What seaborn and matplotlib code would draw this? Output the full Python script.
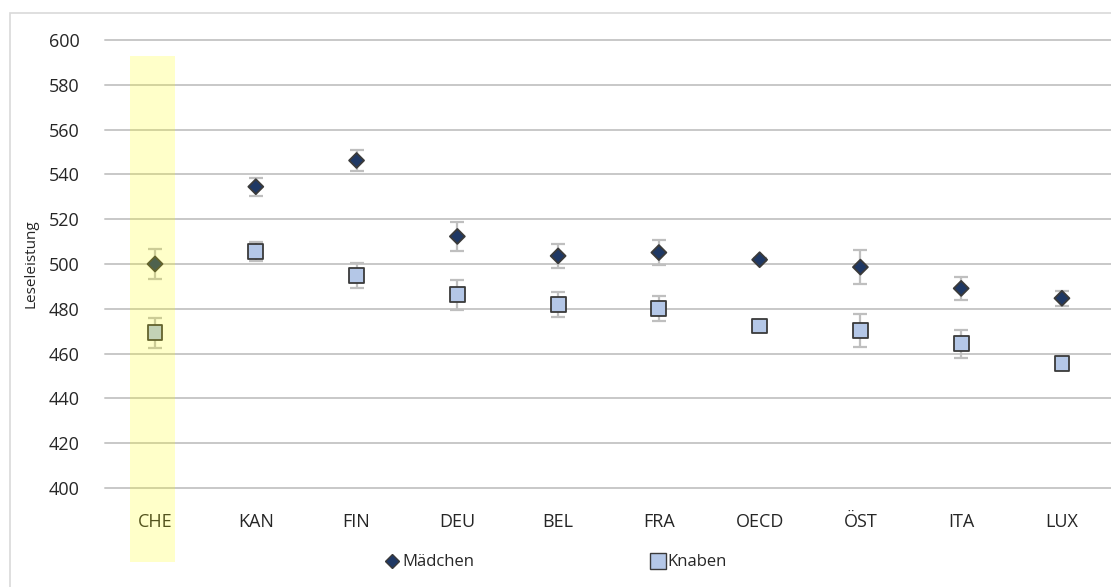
import matplotlib
matplotlib.use("Agg")
import matplotlib.pyplot as plt
from matplotlib.patches import Rectangle
from matplotlib.lines import Line2D
import seaborn as sns
import pandas as pd

# Reading performance by gender
countries = ["CHE", "KAN", "FIN", "DEU", "BEL", "FRA", "OECD", "ÖST", "ITA", "LUX"]
maedchen = [500, 534.5, 546.2, 512.3, 503.6, 505.1, 501.9, 498.6, 489.1, 484.7]
maedchen_err = [6.5, 4.1, 4.9, 6.5, 5.5, 5.5, 0.6, 7.5, 5.1, 3.3]
knaben = [469.3, 505.6, 494.8, 486.2, 482.0, 480.2, 472.3, 470.4, 464.3, 455.4]
knaben_err = [6.8, 4.2, 5.7, 6.7, 5.7, 5.5, 0.6, 7.4, 6.3, 1.0]
y_ticks = list(range(400, 601, 20))

sns.set_theme(style="white")
plt.rcParams["font.family"] = ["Open Sans", "DejaVu Sans"]

df = pd.DataFrame({
    "pos": list(range(len(countries))) * 2,
    "Leseleistung": maedchen + knaben,
    "err": maedchen_err + knaben_err,
    "Gruppe": ["Mädchen"] * len(countries) + ["Knaben"] * len(countries),
})

fig = plt.figure(figsize=(11.11, 5.87), dpi=100)
ax = fig.add_axes([0.0942, 0.1687, 0.907, 0.7632])

# light frame around the chart
fig.patches.append(Rectangle((0.009, -0.05), 1.2, 1.028, transform=fig.transFigure,
                             fill=False, edgecolor="#D9D9D9", linewidth=1.2))

for y in y_ticks:
    ax.axhline(y, color="#C8C8C8", linewidth=1.4, zorder=0, clip_on=False)

# error bars
ax.errorbar(df["pos"], df["Leseleistung"], yerr=df["err"], fmt="none",
            ecolor="#BFBFBF", elinewidth=1.6, capsize=5, capthick=1.6, zorder=2)

sns.scatterplot(data=df, x="pos", y="Leseleistung", hue="Gruppe", style="Gruppe",
                markers={"Mädchen": "D", "Knaben": "s"},
                palette={"Mädchen": "#1F3864", "Knaben": "#B4C7E7"},
                size="Gruppe", sizes={"Mädchen": 58, "Knaben": 115},
                edgecolor="#3A3A3A", linewidth=1.3, legend=False, zorder=3, ax=ax)

# highlighted column
ax.add_patch(Rectangle((-0.25, 367), 0.45, 226, facecolor="#FFFF00", alpha=0.21,
                       edgecolor="none", clip_on=False, zorder=5))

ax.set_xlim(-0.5, 9.5)
ax.set_ylim(400, 600)
ax.set_xticks(range(len(countries)))
ax.set_xticklabels(countries, fontsize=13, color="#262626")
ax.set_yticks(y_ticks)
ax.set_yticklabels([str(v) for v in y_ticks], fontsize=13, color="#262626")
ax.tick_params(axis="x", length=0, pad=18)
ax.tick_params(axis="y", length=0, pad=18)
ax.set_xlabel("")
ax.set_ylabel("Leseleistung", fontsize=11, color="#262626", labelpad=0)
ax.yaxis.set_label_coords(-0.066, 0.5)
for s in ax.spines.values():
    s.set_visible(False)

handles = [
    Line2D([], [], linestyle="none", marker="D", markersize=7.5,
           markerfacecolor="#1F3864", markeredgecolor="#3A3A3A"),
    Line2D([], [], linestyle="none", marker="s", markersize=11,
           markerfacecolor="#B4C7E7", markeredgecolor="#3A3A3A"),
]
fig.legend(handles, ["Mädchen", "Knaben"], loc="center", bbox_to_anchor=(0.5, 0.042),
           ncol=2, frameon=False, fontsize=12, handletextpad=0.1, columnspacing=10.5,
           handlelength=1.0, labelcolor="#262626")

fig.savefig("out.png", dpi=100)
